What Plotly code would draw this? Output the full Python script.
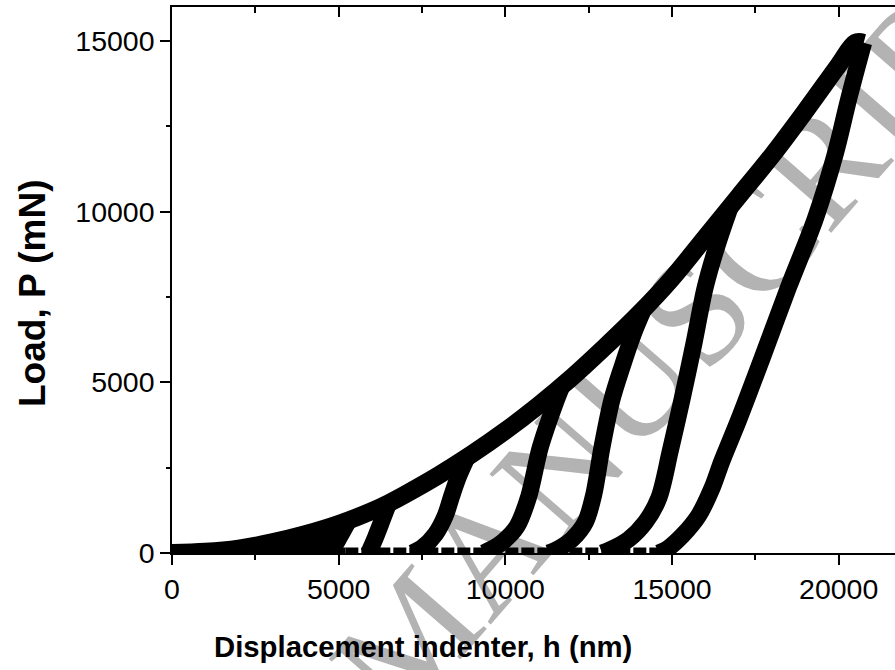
import plotly.graph_objects as go

# ---------------- data ----------------
# loading envelope incl. hold at maximum load (displacement nm, load mN)
env_h = [0, 1000, 2000, 3000, 4000, 5000, 6000, 6500, 7000, 8000, 9000, 10000,
         11000, 12000, 13000, 14000, 15000, 16000, 17000, 18000, 19000, 20000, 20500, 20750]
env_P = [0, 35, 130, 310, 550, 850, 1230, 1460, 1720, 2280, 2900, 3580,
         4330, 5150, 6050, 7000, 8050, 9250, 10450, 11650, 12950, 14300, 14950, 14950]

# unloading branches
c0a_h = [3300, 3150, 2950]
c0a_P = [370, 190, 0]
c0b_h = [4000, 3800, 3550]
c0b_P = [550, 290, 0]
c0c_h = [4650, 4450, 4150]
c0c_P = [740, 390, 0]
c1_h = [5300, 5100, 4900, 4700]
c1_P = [950, 600, 250, 0]
c2_h = [6500, 6300, 6100, 5900]
c2_P = [1460, 950, 450, 0]
c3_h = [8850, 8600, 8400, 8200, 7900, 7500, 7200]
c3_P = [2800, 2250, 1700, 1100, 550, 150, 0]
c4_h = [11700, 11500, 11050, 10700, 10350, 9950, 9600, 9350]
c4_P = [4900, 4400, 3100, 1650, 780, 350, 120, 0]
c5_h = [14150, 13850, 13500, 13200, 12900, 12650, 12400, 12000, 11600, 11300]
c5_P = [7150, 6450, 5450, 4500, 3100, 1700, 900, 400, 130, 0]
c6_h = [16750, 16350, 16000, 15650, 15300, 14950, 14600, 14200, 13700, 13200, 12900]
c6_P = [10150, 9000, 7800, 6100, 4500, 3000, 1600, 900, 400, 120, 0]
c7_h = [20750, 20300, 19900, 19300, 18500, 17700, 17000, 16500, 16200, 15800, 15300, 14900, 14600]
c7_P = [14950, 13300, 11700, 9800, 7800, 5700, 3900, 2700, 1900, 1100, 500, 150, 0]

# zero-load data: continuous at the start, broken between cycles
zero0_h = [0, 5200]
zero0_P = [0, 0]
zero1_h = [5200, 14750]
zero1_P = [0, 0]

x_ticks = [0, 5000, 10000, 15000, 20000]
y_ticks = [0, 5000, 10000, 15000]
x_title = "Displacement indenter, h (nm)"
y_title = "Load, P (mN)"
watermark = "ACCEPTED MANUSCRIPT"

# ---------------- figure ----------------
W, H = 895, 670
L, R, T, B = 172, 0, 7, 117
pw, ph = W - L - R, H - T - B
X_MAX = 21690
Y_MAX = 16000


def px_to_paper(px, py):
    return (px - L) / pw, (H - B - py) / ph


fig = go.Figure()

fig.add_trace(go.Scatter(x=zero0_h, y=zero0_P, mode="lines",
                         line=dict(color="black", width=11), showlegend=False, hoverinfo="skip"))
fig.add_trace(go.Scatter(x=zero1_h, y=zero1_P, mode="lines",
                         line=dict(color="black", width=11, dash="13px,3px"),
                         showlegend=False, hoverinfo="skip"))
for hh, pp in [(c0a_h, c0a_P), (c0b_h, c0b_P), (c0c_h, c0c_P), (c1_h, c1_P), (c2_h, c2_P),
               (c3_h, c3_P), (c4_h, c4_P), (c5_h, c5_P), (c6_h, c6_P), (c7_h, c7_P)]:
    fig.add_trace(go.Scatter(x=hh, y=pp, mode="lines",
                             line=dict(color="black", width=17, shape="spline", smoothing=0.9),
                             showlegend=False, hoverinfo="skip"))
fig.add_trace(go.Scatter(x=env_h, y=env_P, mode="lines",
                         line=dict(color="black", width=18, shape="spline", smoothing=1.0),
                         showlegend=False, hoverinfo="skip"))
# invisible trace to carry the top mirror axis
fig.add_trace(go.Scatter(x=[0], y=[0], xaxis="x2", mode="markers",
                         marker=dict(opacity=0), showlegend=False, hoverinfo="skip"))

tickfont = dict(family="Liberation Sans, Arial, sans-serif", size=28.5, color="black")

fig.update_layout(
    width=W, height=H,
    margin=dict(l=L, r=R, t=T, b=B, pad=0),
    paper_bgcolor="white", plot_bgcolor="white",
    xaxis=dict(range=[0, X_MAX], tickvals=x_ticks, ticktext=[str(v) for v in x_ticks],
               ticks="outside", ticklen=10, tickwidth=1.5, tickcolor="black",
               minor=dict(dtick=2500, tick0=0, ticks="outside", ticklen=5, tickwidth=1.5, tickcolor="black"),
               showline=True, linecolor="black", linewidth=1.5, showgrid=False, zeroline=False,
               tickfont=tickfont),
    xaxis2=dict(range=[0, X_MAX], overlaying="x", side="top", anchor="y",
                tickvals=x_ticks, ticks="inside", ticklen=10, tickwidth=1.5, tickcolor="black",
                minor=dict(dtick=2500, tick0=0, ticks="inside", ticklen=6, tickwidth=1.5, tickcolor="black"),
                showticklabels=False, showline=True, linecolor="black", linewidth=1.5,
                showgrid=False, zeroline=False),
    yaxis=dict(range=[0, Y_MAX], tickvals=y_ticks, ticktext=[str(v) for v in y_ticks],
               ticks="outside", ticklen=10, tickwidth=1.5, tickcolor="black",
               minor=dict(dtick=2500, tick0=0, ticks="outside", ticklen=4, tickwidth=1.5, tickcolor="black"),
               showline=True, linecolor="black", linewidth=1.5, showgrid=False, zeroline=False,
               tickfont=tickfont),
)

xt_x, xt_y = px_to_paper(423, 646)
yt_x, yt_y = px_to_paper(32, 293)
fig.add_annotation(text=x_title, xref="paper", yref="paper", x=xt_x, y=xt_y,
                   showarrow=False, xanchor="center", yanchor="middle",
                   font=dict(family="Liberation Sans, Arial, sans-serif", size=29.3, color="black", weight="bold"))
fig.add_annotation(text=y_title, xref="paper", yref="paper", x=yt_x, y=yt_y, textangle=-90,
                   showarrow=False, xanchor="center", yanchor="middle",
                   font=dict(family="Liberation Sans, Arial, sans-serif", size=37, color="black", weight="bold"))

wm_x, wm_y = px_to_paper(401, 624)
fig.add_shape(type="rect", xref="paper", yref="paper", x0=wm_x, x1=wm_x, y0=wm_y, y1=wm_y,
              line=dict(width=0), layer="below",
              label=dict(text=watermark, textangle=-49, textposition="middle center",
                         font=dict(family="Liberation Serif, Times New Roman, serif", size=152, color="#b3b3b3")))

fig.write_html("out.html")
